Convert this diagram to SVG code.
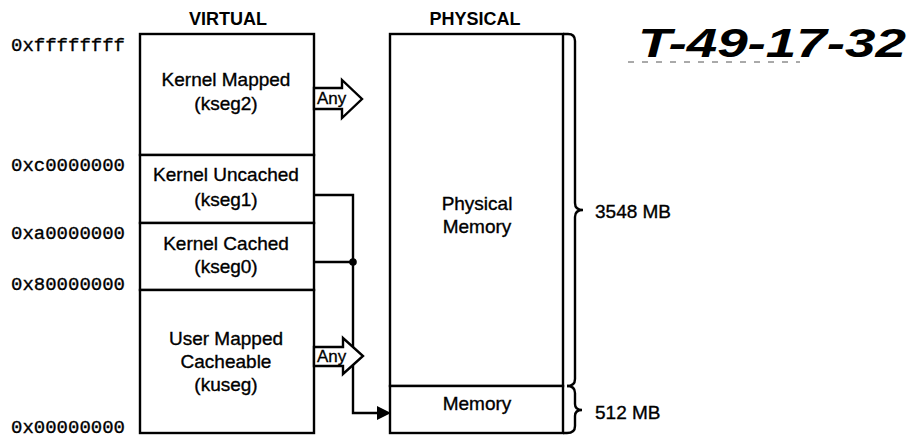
<svg xmlns="http://www.w3.org/2000/svg" width="908" height="438" viewBox="0 0 908 438">
<style>
.box{fill:#fff;stroke:#000;stroke-width:2.4}
.ln{fill:none;stroke:#000;stroke-width:2.4}
.t{font-family:"Liberation Sans",Arial,sans-serif;font-size:19px;fill:#000;stroke:#000;stroke-width:0.35;text-anchor:middle}
.h{font-family:"Liberation Sans",Arial,sans-serif;font-size:18px;font-weight:bold;fill:#000;text-anchor:middle}
.a{font-family:"Liberation Mono","Courier New",monospace;font-size:19px;fill:#000;stroke:#000;stroke-width:0.35}
.any{font-family:"Liberation Sans",Arial,sans-serif;font-size:17px;fill:#000;stroke:#000;stroke-width:0.3}
.l{font-family:"Liberation Sans",Arial,sans-serif;font-size:19px;fill:#000;stroke:#000;stroke-width:0.35}
</style>
<rect width="908" height="438" fill="#fff"/>
<g id="headers">
<text class="h" x="228" y="25">VIRTUAL</text>
<text class="h" x="475" y="25">PHYSICAL</text>
</g>
<g id="addresses">
<text class="a" x="11" y="51" textLength="114" lengthAdjust="spacingAndGlyphs">0xffffffff</text>
<text class="a" x="11" y="171" textLength="114" lengthAdjust="spacingAndGlyphs">0xc0000000</text>
<text class="a" x="11" y="239" textLength="114" lengthAdjust="spacingAndGlyphs">0xa0000000</text>
<text class="a" x="11" y="290" textLength="114" lengthAdjust="spacingAndGlyphs">0x80000000</text>
<text class="a" x="11" y="433" textLength="114" lengthAdjust="spacingAndGlyphs">0x00000000</text>
</g>
<g id="kseg2">
<rect class="box" x="140" y="34" width="174" height="121"/>
<text class="t" x="226" y="86">Kernel Mapped</text>
<text class="t" x="226" y="110">(kseg2)</text>
</g>
<g id="kseg1">
<rect class="box" x="140" y="155" width="174" height="68"/>
<text class="t" x="226" y="181">Kernel Uncached</text>
<text class="t" x="226" y="206">(kseg1)</text>
</g>
<g id="kseg0">
<rect class="box" x="140" y="223" width="174" height="67"/>
<text class="t" x="226" y="250">Kernel Cached</text>
<text class="t" x="226" y="273">(kseg0)</text>
</g>
<g id="kuseg">
<rect class="box" x="140" y="290" width="174" height="143"/>
<text class="t" x="226" y="345">User Mapped</text>
<text class="t" x="226" y="368">Cacheable</text>
<text class="t" x="226" y="391">(kuseg)</text>
</g>
<g id="physical-memory">
<rect class="box" x="390" y="34" width="173" height="352"/>
<text class="t" x="477" y="210">Physical</text>
<text class="t" x="477" y="233">Memory</text>
</g>
<g id="memory">
<rect class="box" x="390" y="386" width="173" height="47"/>
<text class="t" x="477" y="410">Memory</text>
</g>
<g id="braces">
<path class="ln" d="M563 34 H568 Q575 34 575 41 V203 Q575 210 583 210 Q575 210 575 217 V379 Q575 386 567 386"/>
<path class="ln" d="M567 386 Q575 386 575 393 V404 Q575 410 582 410 Q575 410 575 416 V426 Q575 433 567 433 H563"/>
<text class="l" x="595" y="218">3548 MB</text>
<text class="l" x="595" y="419">512 MB</text>
</g>
<g id="connectors">
<path class="ln" d="M314 195 H353 V413 H379"/>
<path class="ln" d="M314 262 H353"/>
<circle cx="353" cy="262" r="3.8" fill="#000"/>
<polygon points="377,406 391,413 377,420" fill="#000"/>
<g id="any-kseg2">
<polygon class="box" points="314,88 342,88 342,80 362,99 342,118 342,109 314,109"/>
<text class="any" x="317" y="104">Any</text>
</g>
<g id="any-kuseg">
<polygon class="box" points="314,347 343,347 343,338 363,356 343,374 343,366 314,366"/>
<text class="any" x="317" y="362">Any</text>
</g>
</g>
<g id="annotation">
<text x="638" y="57" font-family="Liberation Sans,Arial,sans-serif" font-size="40" font-style="italic" font-weight="bold" fill="#000" textLength="268" lengthAdjust="spacingAndGlyphs">T-49-17-32</text>
<line x1="628" y1="62" x2="800" y2="62" stroke="#555" stroke-width="1" stroke-dasharray="6 8"/>
</g>
</svg>
